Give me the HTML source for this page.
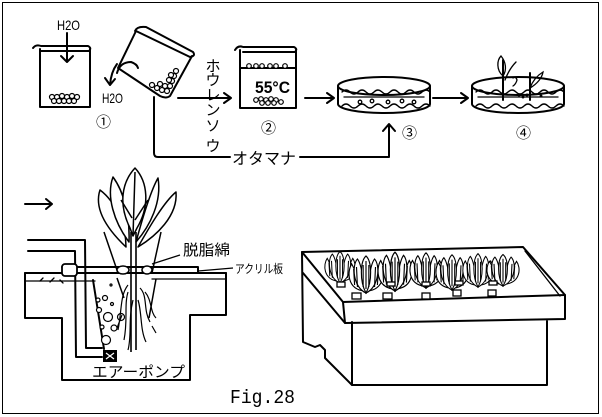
<!DOCTYPE html>
<html><head><meta charset="utf-8"><style>
html,body{margin:0;padding:0;background:#fff;}
svg{display:block;}
text{font-family:"Liberation Sans","Noto Sans CJK JP",sans-serif;fill:#000;}
</style></head><body>
<svg width="602" height="417" viewBox="0 0 602 417" xmlns="http://www.w3.org/2000/svg">
<defs>
<g id="pl" fill="#fff" stroke="#000" stroke-width="1.2">
 <path d="M-2,-2 C-20,-4 -20,-22 -15,-29 C-10,-20 -6,-8 -2,-2Z"/>
 <path d="M2,-2 C20,-4 20,-22 15,-29 C10,-20 6,-8 2,-2Z"/>
 <path d="M0,0 C-14,-6 -15,-28 -9,-34 C-4,-28 -3,-10 0,0Z"/>
 <path d="M0,0 C14,-6 15,-28 9,-34 C4,-28 3,-10 0,0Z"/>
 <path d="M0,0 C-7,-12 -6,-32 0,-37 C6,-32 7,-12 0,0Z"/>
 <path d="M-12,-8 L-13,-24 M-9,-6 L-10,-26 M12,-8 L13,-24 M9,-6 L10,-26 M0,-4 L0,-32 M-3,-6 L-3,-28 M3,-6 L3,-28" fill="none"/>
</g>
</defs>
<rect x="2.5" y="2.5" width="596" height="411" fill="none" stroke="#000" stroke-width="1"/>
<g fill="none" stroke="#000" stroke-width="2" stroke-linecap="round" stroke-linejoin="round">
 <!-- beaker 1 -->
 <path d="M33,48 Q36,44 41,46 L88,46 Q92,48 89,51 L41,51"/>
 <path d="M40,49 L40,107 L90,107 L90,49"/>
 <path d="M67,33 L67,62 M61,56 L67,62 L73,56"/>
 <!-- tilted beaker -->
 <path d="M135,31 Q137,26 146,27 L193,52 Q196,56 190,57 L136,31"/>
 <path d="M136,31 L118,68 L160,96 Q166,99 170,96 L192,56"/>
 <path d="M117,73 Q120,62 131,62 Q137,64 138,68"/>
 <path d="M117,64 Q111,72 110,85 M105,78 L110,85 L115,79"/>
 <!-- arrow to beaker 3 -->
 <path d="M178,98 L230,98 M224,93 L231,98 L224,103"/>
 <!-- otamana line -->
 <path d="M154,97 L154,153 Q154,157 158,157 L230,157"/>
 <path d="M300,157 L389,157 L389,125 M383,131 L389,124 L395,131"/>
 <!-- beaker 3 -->
 <path d="M235,50 Q238,45 243,47 L294,47 Q298,49 295,52 L243,52"/>
 <path d="M240,50 L240,108 L296,108 L296,50"/>
 <path d="M240,68 L296,68"/>
 <!-- arrows -->
 <path d="M305,98 L333,98 M327,93 L334,98 L327,103"/>
 <path d="M433,98 L467,98 M461,93 L468,98 L461,103"/>
 <!-- dish 3 -->
 <ellipse cx="384" cy="86" rx="46" ry="9"/>
 <path d="M338,86 L338,104 A46,9 0 0 0 430,104 L430,86"/>
 <!-- dish 4 -->
 <ellipse cx="518" cy="86" rx="46" ry="9"/>
 <path d="M472,86 L472,104 A46,9 0 0 0 564,104 L564,86"/>
 <!-- left arrow -->
 <path d="M25,204 L52,204 M46,199 L52,204 L46,209"/>
 <!-- pipes -->
 <path d="M28,240 L85,240 L86,348 L102,348"/>
 <path d="M28,251 L75,251 L76,357 L102,357"/>
 <!-- tank -->
 <path d="M62,267 L198,267 L198,273"/>
 <path d="M25,273 L226,273"/>
 <path d="M25,273 L25,318 L62,318 L62,380 L190,380 L190,315 L226,315 L226,273"/>
 <path d="M93,280 L104,349"/>
 <!-- box -->
 <path d="M302,252 L523,247 L565,295 L343,302 Z"/>
 <path d="M343,302 L345,323 L565,319 L565,295"/>
 <path d="M303,273 L345,323"/>
 <path d="M302,252 L303,342 L315,347 L320,345 L325,350 L325,358 L352,385"/>
 <path d="M352,322 L352,385 L547,385 L547,321"/>
</g>
<g fill="none" stroke="#000" stroke-width="1.3" stroke-linecap="round">
 <path d="M25,281 L95,281 M152,279 L226,279"/>
 <path d="M40,281 l3,-3 M50,282 l4,-4 M60,280 l3,3"/>
 <rect x="62" y="264" width="15" height="12" rx="3" fill="#fff" stroke-width="1.8"/>
 <path d="M525,251 L560,296"/>
 <!-- dish 3 details -->
 <path d="M342,92 q4,-4 8,0 t8,0 t8,0 t8,0 t8,0 t8,0 t8,0 t8,0 t8,0 t8,0 t8,0"/>
 <path d="M344,97 L424,97"/>
 <path d="M342,106 q4,-4 8,0 t8,0 t8,0 t8,0 t8,0 t8,0 t8,0 t8,0 t8,0 t8,0 t8,0"/>
 <circle cx="360" cy="102" r="1.8"/><circle cx="372" cy="101" r="1.8"/><circle cx="388" cy="102" r="1.8"/><circle cx="402" cy="101" r="1.8"/><circle cx="414" cy="102" r="1.8"/>
 <!-- dish 4 details -->
 <path d="M476,92 q4,-4 8,0 t8,0 t8,0 t8,0 t8,0 t8,0 t8,0 t8,0 t8,0 t8,0 t8,0"/>
 <path d="M478,97 L558,97"/>
 <path d="M476,106 q4,-4 8,0 t8,0 t8,0 t8,0 t8,0 t8,0 t8,0 t8,0 t8,0 t8,0 t8,0"/>
 <path d="M503,60 L503,100 M530,73 L530,100" stroke-width="2"/>
 <path d="M503,76 C496,70 497,60 501,56 C506,62 507,70 503,76"/>
 <path d="M505,80 C508,72 512,66 516,62"/>
 <path d="M530,88 C533,80 538,75 543,72 C542,78 537,84 530,88"/>
 <path d="M513,78 q3,-2 4,2 q-1,4 -4,6"/>
 <circle cx="519" cy="95" r="0.8"/><circle cx="523" cy="97" r="0.8"/><circle cx="527" cy="95" r="0.8"/><circle cx="541" cy="96" r="0.8"/>
</g>
<!-- beads -->
<g fill="#fff" stroke="#000" stroke-width="1.2">
 <circle cx="52" cy="97" r="2.5"/><circle cx="57" cy="97" r="2.5"/><circle cx="62" cy="96" r="2.5"/><circle cx="67" cy="97" r="2.5"/><circle cx="72" cy="96" r="2.5"/><circle cx="77" cy="97" r="2.5"/>
 <circle cx="54" cy="101" r="2.5"/><circle cx="59" cy="101" r="2.5"/><circle cx="64" cy="101" r="2.5"/><circle cx="69" cy="101" r="2.5"/><circle cx="74" cy="101" r="2.5"/>
 <circle cx="152" cy="85" r="2.5"/><circle cx="157" cy="88" r="2.5"/><circle cx="162" cy="90" r="2.5"/><circle cx="167" cy="91" r="2.5"/><circle cx="160" cy="84" r="2.5"/><circle cx="165" cy="86" r="2.5"/><circle cx="170" cy="86" r="2.5"/><circle cx="172" cy="81" r="2.5"/><circle cx="174" cy="76" r="2.5"/><circle cx="176" cy="71" r="2.5"/><circle cx="169" cy="80" r="2.5"/><circle cx="171" cy="75" r="2.5"/>
 <circle cx="249" cy="66" r="2.3"/><circle cx="256" cy="66" r="2.3"/><circle cx="262" cy="66" r="2.3"/><circle cx="270" cy="66" r="2.3"/><circle cx="276" cy="66" r="2.3"/><circle cx="285" cy="66" r="2.3"/>
 <circle cx="256" cy="100" r="2.3"/><circle cx="261" cy="99" r="2.3"/><circle cx="266" cy="100" r="2.3"/><circle cx="271" cy="99" r="2.3"/><circle cx="276" cy="100" r="2.3"/><circle cx="262" cy="103" r="2.3"/><circle cx="268" cy="103" r="2.3"/><circle cx="274" cy="103" r="2.3"/><circle cx="281" cy="102" r="2.3"/>
 <!-- bubbles -->
 <circle cx="98" cy="300" r="2"/><circle cx="105" cy="298" r="2.5"/><circle cx="112" cy="304" r="1.5"/><circle cx="99" cy="310" r="2.5"/><circle cx="108" cy="317" r="4.5"/><circle cx="121" cy="317" r="3.5"/><circle cx="102" cy="327" r="2"/><circle cx="114" cy="328" r="3"/><circle cx="106" cy="340" r="4.5"/><circle cx="111" cy="285" r="1"/>
</g>
<!-- plant in tank -->
<g fill="#fff" stroke="#000" stroke-width="1.5" stroke-linejoin="round">
 <path d="M100,190 C94,208 106,228 126,247 C126,226 116,202 100,190Z"/>
 <path d="M176,192 C164,202 150,226 138,247 C156,236 178,216 176,192Z"/>
 <path d="M113,177 C106,196 114,222 129,242 C130,216 124,192 113,177Z"/>
 <path d="M158,178 C150,192 142,220 136,242 C150,226 162,202 158,178Z"/>
 <path d="M135,168 C122,182 118,204 130,228 L133,236 L137,228 C150,206 148,182 135,168Z"/>
 <path d="M135,172 L133,236 M121,200 L132,218 M148,200 L135,220" fill="none"/>
 <path d="M104,232 L118,273 M161,232 L152,273" fill="none"/>
 <path d="M131,232 L131,352 M136,232 L136,350" fill="none" stroke-width="1.6"/>
 <ellipse cx="123" cy="270" rx="6" ry="4"/>
 <ellipse cx="147" cy="270" rx="5" ry="4"/>
 <path d="M117,278 L124,298 M156,279 L149,318" fill="none"/>
 <path d="M128,285 C120,295 122,310 118,330 M128,292 C124,305 128,320 124,340 M140,288 C148,296 143,310 150,322 M138,300 C142,312 140,330 146,342 M133,300 C128,320 132,335 128,350 M145,292 C152,300 150,312 156,318 M122,315 L117,328 M152,326 L156,333" fill="none" stroke-width="1.2"/>
</g>
<rect x="103" y="350" width="14" height="12" fill="#000"/>
<path d="M106,353 L114,359 M114,353 L106,359" stroke="#fff" stroke-width="1.2"/>
<g stroke="#000" stroke-width="1.2" fill="none">
 <path d="M180,255 L152,264"/>
 <path d="M233,268 L198,271"/>
</g>
<!-- tray plants -->
<use href="#pl" transform="translate(340,283) scale(0.85,0.85)"/>
<use href="#pl" transform="translate(366,293) scale(0.95,1)"/>
<use href="#pl" transform="translate(395,291) scale(0.95,1.05)"/>
<use href="#pl" transform="translate(426,288) scale(0.9,0.95)"/>
<use href="#pl" transform="translate(452,290) scale(0.9,0.95)"/>
<use href="#pl" transform="translate(478,287) scale(0.85,0.9)"/>
<use href="#pl" transform="translate(503,286) scale(0.9,0.85)"/>
<g fill="#fff" stroke="#000" stroke-width="1.3">
 <rect x="337" y="282" width="8" height="5"/>
 <rect x="352" y="293" width="9" height="6"/>
 <rect x="383" y="293" width="9" height="6"/>
 <rect x="387" y="282" width="8" height="4"/>
 <rect x="422" y="293" width="8" height="6"/>
 <rect x="422" y="282" width="8" height="4"/>
 <rect x="453" y="290" width="8" height="6"/>
 <rect x="455" y="281" width="8" height="4"/>
 <rect x="488" y="290" width="8" height="6"/>
 <rect x="489" y="281" width="8" height="4"/>
</g>
<!-- text -->
<text x="57" y="30" font-size="14" textLength="23" lengthAdjust="spacingAndGlyphs">H2O</text>
<text x="102" y="103" font-size="14" textLength="21" lengthAdjust="spacingAndGlyphs">H2O</text>
<text x="96" y="127" font-size="15">①</text>
<text x="261" y="133" font-size="15">②</text>
<text x="402" y="138" font-size="15">③</text>
<text x="516" y="138" font-size="15">④</text>
<g font-size="15" text-anchor="middle">
 <text x="213" y="71">ホ</text>
 <text x="213" y="85">ウ</text>
 <text x="213" y="100">レ</text>
 <text x="213" y="115">ン</text>
 <text x="213" y="131">ソ</text>
 <text x="213" y="151">ウ</text>
</g>
<text x="232" y="164" font-size="16" textLength="64" lengthAdjust="spacingAndGlyphs">オタマナ</text>
<text x="255" y="93" font-size="17" font-weight="bold" textLength="35" lengthAdjust="spacingAndGlyphs">55°C</text>
<text x="183" y="255" font-size="15" textLength="47" lengthAdjust="spacingAndGlyphs">脱脂綿</text>
<text x="235" y="273" font-size="12" textLength="48" lengthAdjust="spacingAndGlyphs">アクリル板</text>
<text x="92" y="377" font-size="15" textLength="93" lengthAdjust="spacingAndGlyphs">エアーポンプ</text>
<text x="230" y="403" font-size="19" style="font-family:'Liberation Mono',monospace" textLength="65" lengthAdjust="spacingAndGlyphs">Fig.28</text>
</svg>
</body></html>
